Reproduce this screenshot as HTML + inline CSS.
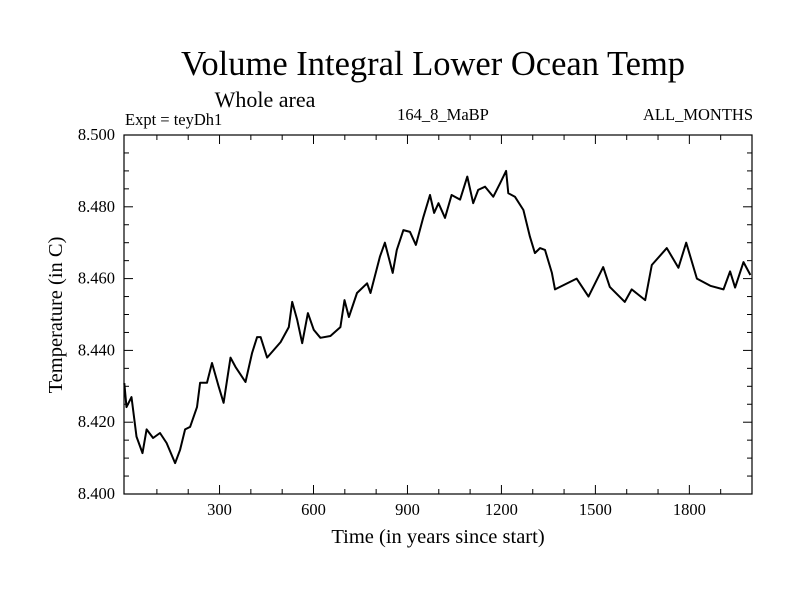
<!DOCTYPE html>
<html><head><meta charset="utf-8"><style>
html,body{margin:0;padding:0;background:#fff;}
svg{display:block;font-family:"Liberation Serif",serif;}
</style></head><body>
<svg id="chart" width="800" height="600" viewBox="0 0 800 600">
<text x="433" y="75" font-size="34.5" text-anchor="middle">Volume Integral Lower Ocean Temp</text>
<text x="265" y="107" font-size="22" text-anchor="middle">Whole area</text>
<text x="125" y="125" font-size="16.5">Expt = teyDh1</text>
<text x="443" y="120" font-size="16.5" text-anchor="middle">164_8_MaBP</text>
<text x="753" y="120" font-size="16.5" text-anchor="end">ALL_MONTHS</text>
<text x="438" y="543" font-size="20.5" text-anchor="middle">Time (in years since start)</text>
<text transform="translate(62,315) rotate(-90)" font-size="20.5" text-anchor="middle">Temperature (in C)</text>
<g id="axes"></g>
<g id="series"></g>
</svg>
<script>
const xTicks = [300, 600, 900, 1200, 1500, 1800];
const yTicks = [8.400, 8.420, 8.440, 8.460, 8.480, 8.500];
const years = [-4,3,19,35,54,67,88,110,131,158,174,190,206,228,238,260,276,297,313,335,351,383,404,420,431,452,495,521,532,548,564,582,601,622,654,686,699,713,739,771,782,812,828,853,866,887,908,927,951,972,985,999,1020,1041,1068,1091,1110,1126,1148,1174,1196,1215,1222,1243,1270,1291,1307,1323,1339,1361,1371,1440,1478,1525,1546,1594,1616,1659,1680,1728,1765,1790,1824,1867,1909,1930,1946,1973,1995];
const temps = [8.4309,8.4242,8.427,8.416,8.4114,8.418,8.4156,8.417,8.4142,8.4086,8.4123,8.418,8.4187,8.4242,8.431,8.431,8.4365,8.430,8.4254,8.438,8.4354,8.4312,8.4393,8.4437,8.4437,8.438,8.4423,8.4465,8.4535,8.4485,8.442,8.4504,8.4457,8.4435,8.444,8.4465,8.454,8.4493,8.456,8.4587,8.456,8.4661,8.470,8.4616,8.468,8.4735,8.473,8.4694,8.4772,8.4833,8.4783,8.481,8.4769,8.4833,8.482,8.4884,8.481,8.4847,8.4856,8.4828,8.4866,8.490,8.4838,8.4828,8.4791,8.4717,8.4671,8.4685,8.468,8.4616,8.457,8.460,8.455,8.4632,8.4577,8.4535,8.457,8.454,8.4638,8.4685,8.463,8.470,8.460,8.458,8.457,8.462,8.4575,8.4646,8.461];

const L=124,R=752,T=135,B=494, X0=-5, X1=2000, Y0=8.4, Y1=8.5;
const sx=v=>L+(v-X0)/(X1-X0)*(R-L);
const sy=v=>B-(v-Y0)/(Y1-Y0)*(B-T);
const NS="http://www.w3.org/2000/svg";
const axes=document.getElementById('axes');
function mk(tag,attrs,parent){const e=document.createElementNS(NS,tag);for(const k in attrs)e.setAttribute(k,attrs[k]);parent.appendChild(e);return e;}
const frame=mk('rect',{x:L,y:T,width:R-L,height:B-T,fill:'none',stroke:'#000','stroke-width':1.2},axes);


for(let v=100; v<X1; v+=100){
  const major = v%300===0;
  const len = major?9:5;
  const t1=mk('line',{x1:sx(v),x2:sx(v),y1:B,y2:B-len,stroke:'#000'},axes);
  
  
  const t2=mk('line',{x1:sx(v),x2:sx(v),y1:T,y2:T+len,stroke:'#000'},axes);
  
  
}
xTicks.forEach(v=>{
  const t=mk('text',{x:sx(v),y:B+21,'font-size':16.5,'text-anchor':'middle'},axes);
  t.textContent=v;
  
  
});
for(let i=1;i<20;i++){
  const v=Y0+i*0.005; const major=i%4===0; const len=major?9:5;
  const a=mk('line',{x1:L,x2:L+len,y1:sy(v),y2:sy(v),stroke:'#000'},axes);
  
  
  const b=mk('line',{x1:R,x2:R-len,y1:sy(v),y2:sy(v),stroke:'#000'},axes);
  
  
}
yTicks.forEach(v=>{
  const t=mk('text',{x:115,y:sy(v)+5,'font-size':16.5,'text-anchor':'end'},axes);
  t.textContent=v.toFixed(3);
  
  
});
const d=years.map((y,i)=>(i?'L':'M')+sx(y).toFixed(1)+','+sy(temps[i]).toFixed(1)).join(' ');
const line=mk('path',{d:d,fill:'none',stroke:'#000','stroke-width':2,'stroke-linejoin':'round'},document.getElementById('series'));


</script>
</body></html>
